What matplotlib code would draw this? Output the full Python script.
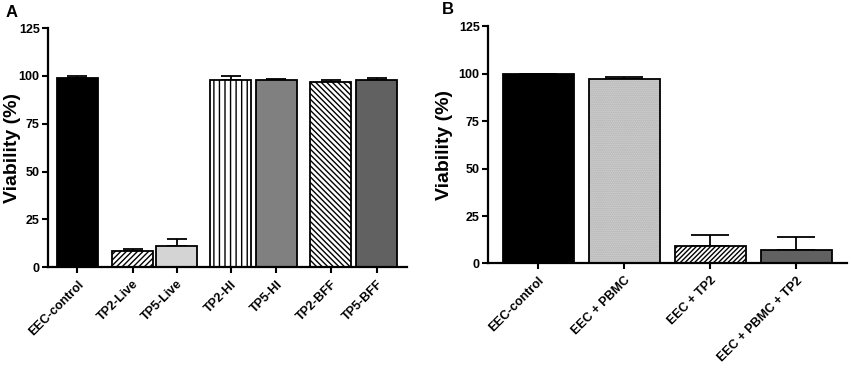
import numpy as np
import matplotlib
matplotlib.use("Agg")
import matplotlib.pyplot as plt

plt.rcParams['font.family'] = ['Liberation Sans', 'DejaVu Sans']
plt.rcParams['font.weight'] = 'bold'
plt.rcParams['hatch.linewidth'] = 1.0

# panel A data
labels_a = ["EEC-control", "TP2-Live", "TP5-Live", "TP2-HI", "TP5-HI", "TP2-BFF", "TP5-BFF"]
vals_a = [99.1, 8.4, 11.0, 97.9, 97.9, 96.6, 97.7]
err_a = [0.6, 1.3, 3.5, 1.8, 0.7, 1.2, 1.3]
colors_a = ["black", "white", "#d4d4d4", "white", "#808080", "white", "#616161"]
hatch_a = [None, "//////", None, "|||", None, "\\\\\\\\\\\\", None]
xpos_a = [0, 1.24, 2.23, 3.44, 4.47, 5.69, 6.72]

# panel B data
labels_b = ["EEC-control", "EEC + PBMC", "EEC + TP2", "EEC + PBMC + TP2"]
vals_b = [99.6, 97.4, 9.3, 7.0]
err_b = [0.4, 1.0, 5.6, 6.7]
colors_b = ["black", "#d9d9d9", "white", "#616161"]
hatch_b = [None, "........", "///////", None]
hatchcol_b = [None, "#a8a8a8", "black", None]

yticks = [0, 25, 50, 75, 100, 125]


def style_ax(ax, label_x):
    ax.spines['top'].set_visible(False)
    ax.spines['right'].set_visible(False)
    ax.spines['left'].set_linewidth(1.6)
    ax.spines['bottom'].set_linewidth(1.6)
    ax.set_ylim(0, 125)
    ax.set_yticks(yticks)
    ax.tick_params(axis='both', direction='out', length=4, width=1.5, labelsize=9, pad=2)
    ax.tick_params(axis='x', labelsize=9, pad=4)
    ax.set_ylabel("Viability (%)", fontsize=14, fontweight='bold')
    ax.yaxis.set_label_coords(label_x, 0.5)
    for lab in ax.get_xticklabels():
        lab.set_rotation(45)
        lab.set_ha('right')
        lab.set_rotation_mode('anchor')


fig = plt.figure(figsize=(8.51, 3.70), dpi=100)

ax1 = fig.add_axes([0.0564, 0.278, 0.4216, 0.646])
w = 0.92
for i in range(len(vals_a)):
    ax1.bar(xpos_a[i], vals_a[i], width=w, color=colors_a[i], edgecolor="black",
            linewidth=1.3, hatch=hatch_a[i], zorder=2)
    ax1.errorbar(xpos_a[i], vals_a[i], yerr=[[0], [err_a[i]]], fmt='none',
                 ecolor="black", elinewidth=1.3, capsize=7.5, capthick=1.3, zorder=1)
ax1.set_xlim(-0.66, 7.4)
ax1.set_xticks(xpos_a)
ax1.set_xticklabels(labels_a)
style_ax(ax1, -0.076)

ax2 = fig.add_axes([0.5734, 0.288, 0.4216, 0.641])
xpos_b = np.arange(len(vals_b))
wb = 0.83
for i in range(len(vals_b)):
    if hatch_b[i]:
        # hatch drawn in its own colour, outline on top
        ax2.bar(xpos_b[i], vals_b[i], width=wb, color=colors_b[i], edgecolor=hatchcol_b[i],
                linewidth=0, hatch=hatch_b[i], zorder=2)
        ax2.bar(xpos_b[i], vals_b[i], width=wb, fill=False, edgecolor="black",
                linewidth=1.3, zorder=3)
    else:
        ax2.bar(xpos_b[i], vals_b[i], width=wb, color=colors_b[i], edgecolor="black",
                linewidth=1.3, zorder=2)
    ax2.errorbar(xpos_b[i], vals_b[i], yerr=[[0], [err_b[i]]], fmt='none',
                 ecolor="black", elinewidth=1.3, capsize=13.5, capthick=1.3, zorder=1)
ax2.set_xlim(-0.585, 3.585)
ax2.set_xticks(xpos_b)
ax2.set_xticklabels(labels_b)
style_ax(ax2, -0.097)

fig.text(0.006, 0.955, "A", fontsize=12, fontweight='bold')
fig.text(0.519, 0.962, "B", fontsize=12, fontweight='bold')

fig.savefig("out.png", dpi=100)
